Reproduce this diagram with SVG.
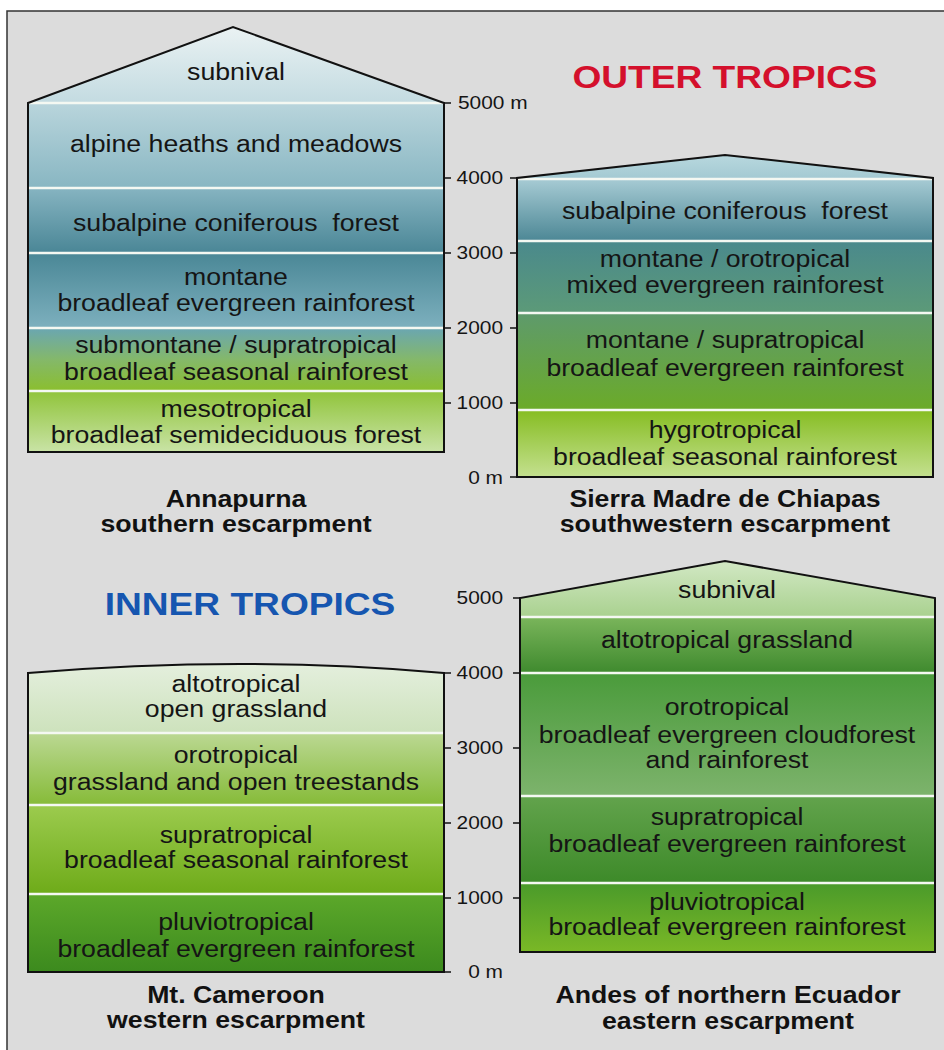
<svg xmlns="http://www.w3.org/2000/svg" width="944" height="1050" viewBox="0 0 944 1050">
<defs>
<style>
.t{font-family:"Liberation Sans",Arial,sans-serif;font-size:23px;fill:#151515;text-anchor:middle}
.b{font-family:"Liberation Sans",Arial,sans-serif;font-size:23px;font-weight:bold;fill:#111;text-anchor:middle}
.h{font-family:"Liberation Sans",Arial,sans-serif;font-size:32px;font-weight:bold;text-anchor:middle}
.ax{font-family:"Liberation Sans",Arial,sans-serif;font-size:18px;fill:#151515;text-anchor:end}
.axs{font-family:"Liberation Sans",Arial,sans-serif;font-size:18px;fill:#151515;text-anchor:start}
.sep{stroke:#f4f8f2;stroke-width:2.5;fill:none}
.out{stroke:#111;stroke-width:2;fill:none;stroke-linejoin:miter}
.tick{stroke:#111;stroke-width:1.5;fill:none}
</style>
<linearGradient id="a1" x1="0" y1="0" x2="0" y2="1"><stop offset="0" stop-color="#eaf2f3"/><stop offset="1" stop-color="#c3dbe1"/></linearGradient>
<linearGradient id="a2" x1="0" y1="0" x2="0" y2="1"><stop offset="0" stop-color="#b9d5dc"/><stop offset="1" stop-color="#88b6c2"/></linearGradient>
<linearGradient id="a3" x1="0" y1="0" x2="0" y2="1"><stop offset="0" stop-color="#86b4c1"/><stop offset="1" stop-color="#4a8696"/></linearGradient>
<linearGradient id="a4" x1="0" y1="0" x2="0" y2="1"><stop offset="0" stop-color="#4a8796"/><stop offset="1" stop-color="#7db0be"/></linearGradient>
<linearGradient id="a5" x1="0" y1="0" x2="0" y2="1"><stop offset="0" stop-color="#6aa6b2"/><stop offset="0.5" stop-color="#84b86a"/><stop offset="1" stop-color="#8bbf2e"/></linearGradient>
<linearGradient id="a6" x1="0" y1="0" x2="0" y2="1"><stop offset="0" stop-color="#90c43a"/><stop offset="1" stop-color="#c9e3a6"/></linearGradient>
<linearGradient id="c0" x1="0" y1="0" x2="0" y2="1"><stop offset="0" stop-color="#b8d8de"/><stop offset="1" stop-color="#a4cad3"/></linearGradient>
<linearGradient id="c1" x1="0" y1="0" x2="0" y2="1"><stop offset="0" stop-color="#a8ccd5"/><stop offset="1" stop-color="#4c8795"/></linearGradient>
<linearGradient id="c2" x1="0" y1="0" x2="0" y2="1"><stop offset="0" stop-color="#4a898c"/><stop offset="1" stop-color="#5c9a78"/></linearGradient>
<linearGradient id="c3" x1="0" y1="0" x2="0" y2="1"><stop offset="0" stop-color="#5e9a6c"/><stop offset="1" stop-color="#6bab28"/></linearGradient>
<linearGradient id="c4" x1="0" y1="0" x2="0" y2="1"><stop offset="0" stop-color="#86bd22"/><stop offset="1" stop-color="#c4e08f"/></linearGradient>
<linearGradient id="m1" x1="0" y1="0" x2="0" y2="1"><stop offset="0" stop-color="#e4efdd"/><stop offset="1" stop-color="#cde2bc"/></linearGradient>
<linearGradient id="m2" x1="0" y1="0" x2="0" y2="1"><stop offset="0" stop-color="#bbd893"/><stop offset="1" stop-color="#86bb38"/></linearGradient>
<linearGradient id="m3" x1="0" y1="0" x2="0" y2="1"><stop offset="0" stop-color="#9ccb4e"/><stop offset="1" stop-color="#6eab19"/></linearGradient>
<linearGradient id="m4" x1="0" y1="0" x2="0" y2="1"><stop offset="0" stop-color="#5ca82a"/><stop offset="1" stop-color="#3c8a1e"/></linearGradient>
<linearGradient id="e1" x1="0" y1="0" x2="0" y2="1"><stop offset="0" stop-color="#d2e8c4"/><stop offset="1" stop-color="#a9d18f"/></linearGradient>
<linearGradient id="e2" x1="0" y1="0" x2="0" y2="1"><stop offset="0" stop-color="#7ab55b"/><stop offset="1" stop-color="#3f8a2e"/></linearGradient>
<linearGradient id="e3" x1="0" y1="0" x2="0" y2="1"><stop offset="0" stop-color="#4a9b3b"/><stop offset="1" stop-color="#7db36c"/></linearGradient>
<linearGradient id="e4" x1="0" y1="0" x2="0" y2="1"><stop offset="0" stop-color="#62a34c"/><stop offset="1" stop-color="#3d8a29"/></linearGradient>
<linearGradient id="e5" x1="0" y1="0" x2="0" y2="1"><stop offset="0" stop-color="#4a9a2a"/><stop offset="1" stop-color="#7ab826"/></linearGradient>
</defs>

<rect x="0" y="0" width="944" height="1050" fill="#ffffff"/>
<rect x="7" y="11" width="960" height="1060" fill="#dcdcdc" stroke="#333" stroke-width="1.5"/>

<g id="titles">
<text class="h" fill="#d4102c" transform="translate(725,88) scale(1.16,1)">OUTER TROPICS</text>
<text class="h" fill="#1656b0" transform="translate(250,615) scale(1.16,1)">INNER TROPICS</text>
</g>

<g id="annapurna">
<polygon points="28,103 233,27 444,103" fill="url(#a1)"/>
<rect x="28" y="103" width="416" height="85" fill="url(#a2)"/>
<rect x="28" y="188" width="416" height="65" fill="url(#a3)"/>
<rect x="28" y="253" width="416" height="75" fill="url(#a4)"/>
<rect x="28" y="328" width="416" height="63" fill="url(#a5)"/>
<rect x="28" y="391" width="416" height="61" fill="url(#a6)"/>
<path class="sep" d="M29,103H443M29,188H443M29,253H443M29,328H443M29,391H443"/>
<path class="out" d="M28,452V103L233,27L444,103V452Z"/>
<text class="t" transform="translate(236,80) scale(1.16,1)">subnival</text>
<text class="t" transform="translate(236,152) scale(1.16,1)">alpine heaths and meadows</text>
<text class="t" transform="translate(236,231) scale(1.16,1)">subalpine coniferous&#160; forest</text>
<text class="t" transform="translate(236,285) scale(1.16,1)"><tspan x="0" y="0">montane</tspan><tspan x="0" y="26">broadleaf evergreen rainforest</tspan></text>
<text class="t" transform="translate(236,353) scale(1.16,1)"><tspan x="0" y="0">submontane / supratropical</tspan><tspan x="0" y="27">broadleaf seasonal rainforest</tspan></text>
<text class="t" transform="translate(236,417) scale(1.16,1)"><tspan x="0" y="0">mesotropical</tspan><tspan x="0" y="26">broadleaf semideciduous forest</tspan></text>
<text class="b" transform="translate(236,507) scale(1.16,1)"><tspan x="0" y="0">Annapurna</tspan><tspan x="0" y="25">southern escarpment</tspan></text>
</g>

<g id="chiapas">
<polygon points="517,178 725,155 933,178" fill="url(#c0)"/>
<rect x="517" y="178" width="416" height="63" fill="url(#c1)"/>
<rect x="517" y="241" width="416" height="72" fill="url(#c2)"/>
<rect x="517" y="313" width="416" height="97" fill="url(#c3)"/>
<rect x="517" y="410" width="416" height="67" fill="url(#c4)"/>
<path class="sep" d="M518,179H932M518,241H932M518,313H932M518,410H932"/>
<path class="out" d="M517,477V178L725,155L933,178V477Z"/>
<text class="t" transform="translate(725,219) scale(1.16,1)">subalpine coniferous&#160; forest</text>
<text class="t" transform="translate(725,267) scale(1.16,1)"><tspan x="0" y="0">montane / orotropical</tspan><tspan x="0" y="26">mixed evergreen rainforest</tspan></text>
<text class="t" transform="translate(725,348) scale(1.16,1)"><tspan x="0" y="0">montane / supratropical</tspan><tspan x="0" y="28">broadleaf evergreen rainforest</tspan></text>
<text class="t" transform="translate(725,438) scale(1.16,1)"><tspan x="0" y="0">hygrotropical</tspan><tspan x="0" y="27">broadleaf seasonal rainforest</tspan></text>
<text class="b" transform="translate(725,507) scale(1.16,1)"><tspan x="0" y="0">Sierra Madre de Chiapas</tspan><tspan x="0" y="25">southwestern escarpment</tspan></text>
</g>

<g id="cameroon">
<path d="M28,673Q243,655 444,673V733H28Z" fill="url(#m1)"/>
<rect x="28" y="733" width="416" height="72" fill="url(#m2)"/>
<rect x="28" y="805" width="416" height="89" fill="url(#m3)"/>
<rect x="28" y="894" width="416" height="78" fill="url(#m4)"/>
<path class="sep" d="M29,733H443M29,805H443M29,894H443"/>
<path class="out" d="M28,972V673Q243,655 444,673V972Z"/>
<text class="t" transform="translate(236,692) scale(1.16,1)"><tspan x="0" y="0">altotropical</tspan><tspan x="0" y="25">open grassland</tspan></text>
<text class="t" transform="translate(236,763) scale(1.16,1)"><tspan x="0" y="0">orotropical</tspan><tspan x="0" y="27">grassland and open treestands</tspan></text>
<text class="t" transform="translate(236,843) scale(1.16,1)"><tspan x="0" y="0">supratropical</tspan><tspan x="0" y="25">broadleaf seasonal rainforest</tspan></text>
<text class="t" transform="translate(236,930) scale(1.16,1)"><tspan x="0" y="0">pluviotropical</tspan><tspan x="0" y="27">broadleaf evergreen rainforest</tspan></text>
<text class="b" transform="translate(236,1003) scale(1.16,1)"><tspan x="0" y="0">Mt. Cameroon</tspan><tspan x="0" y="25">western escarpment</tspan></text>
</g>

<g id="ecuador">
<path d="M520,598L725,561L935,598V617H520Z" fill="url(#e1)"/>
<rect x="520" y="617" width="415" height="56" fill="url(#e2)"/>
<rect x="520" y="673" width="415" height="123" fill="url(#e3)"/>
<rect x="520" y="796" width="415" height="87" fill="url(#e4)"/>
<rect x="520" y="883" width="415" height="69" fill="url(#e5)"/>
<path class="sep" d="M521,617H934M521,673H934M521,796H934M521,883H934"/>
<path class="out" d="M520,952V598L725,561L935,598V952Z"/>
<text class="t" transform="translate(727,598) scale(1.16,1)">subnival</text>
<text class="t" transform="translate(727,648) scale(1.16,1)">altotropical grassland</text>
<text class="t" transform="translate(727,715) scale(1.16,1)"><tspan x="0" y="0">orotropical</tspan><tspan x="0" y="28">broadleaf evergreen cloudforest</tspan><tspan x="0" y="53">and rainforest</tspan></text>
<text class="t" transform="translate(727,825) scale(1.16,1)"><tspan x="0" y="0">supratropical</tspan><tspan x="0" y="27">broadleaf evergreen rainforest</tspan></text>
<text class="t" transform="translate(727,910) scale(1.16,1)"><tspan x="0" y="0">pluviotropical</tspan><tspan x="0" y="25">broadleaf evergreen rainforest</tspan></text>
<text class="b" transform="translate(728,1003) scale(1.16,1)"><tspan x="0" y="0">Andes of northern Ecuador</tspan><tspan x="0" y="26">eastern escarpment</tspan></text>
</g>

<g id="axes">
<path class="tick" d="M444,103H451M444,178H451M444,253H451M444,328H451M444,403H451"/>
<path class="tick" d="M510,178H517M510,253H517M510,328H517M510,403H517M510,477H517"/>
<path class="tick" d="M444,673H451M444,748H451M444,823H451M444,898H451M444,972H451"/>
<path class="tick" d="M513,598H520M513,673H520M513,748H520M513,823H520M513,898H520"/>
<text class="axs" transform="translate(458,109) scale(1.16,1)">5000 m</text>
<text class="ax" transform="translate(503,184) scale(1.16,1)">4000</text>
<text class="ax" transform="translate(503,259) scale(1.16,1)">3000</text>
<text class="ax" transform="translate(503,334) scale(1.16,1)">2000</text>
<text class="ax" transform="translate(503,409) scale(1.16,1)">1000</text>
<text class="ax" transform="translate(503,484) scale(1.16,1)">0 m</text>
<text class="ax" transform="translate(503,604) scale(1.16,1)">5000</text>
<text class="ax" transform="translate(503,679) scale(1.16,1)">4000</text>
<text class="ax" transform="translate(503,754) scale(1.16,1)">3000</text>
<text class="ax" transform="translate(503,829) scale(1.16,1)">2000</text>
<text class="ax" transform="translate(503,904) scale(1.16,1)">1000</text>
<text class="ax" transform="translate(503,978) scale(1.16,1)">0 m</text>
</g>
</svg>
